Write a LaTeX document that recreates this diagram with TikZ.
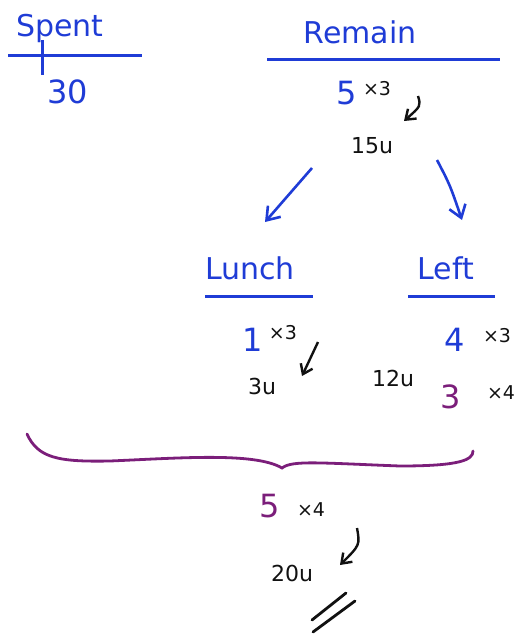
\documentclass[tikz,border=0pt]{standalone}
\usepackage{fontspec}
\setmainfont{DejaVu Sans}
\usetikzlibrary{arrows.meta,positioning}
\definecolor{Pen}{HTML}{1F3CD6}
\definecolor{Plum}{HTML}{7B1E7A}
\definecolor{Ink}{HTML}{111111}
\tikzset{
  heading/.style={text=Pen, font=\fontsize{30}{30}\selectfont, inner sep=1pt},
  bluenum/.style={text=Pen, font=\fontsize{32}{32}\selectfont, inner sep=1pt},
  plumnum/.style={text=Plum, font=\fontsize{32}{32}\selectfont, inner sep=1pt},
  units/.style={text=Ink, font=\fontsize{22}{22}\selectfont, inner sep=1pt},
  times/.style={text=Ink, font=\fontsize{19}{19}\selectfont, inner sep=1pt},
  rule/.style={draw=Pen, line width=3pt},
  inkflow/.style={-{Straight Barb[length=9pt,width=13pt,line width=2.4pt]}, line width=2.4pt, draw=Ink},
  penflow/.style={-{Straight Barb[length=12pt,width=17pt,line width=2.6pt]}, line width=2.6pt, draw=Pen},
  brace/.style={draw=Plum, line width=2.8pt, line cap=round},
  equals/.style={draw=Ink, line width=2.8pt, line cap=round}
}
\begin{document}
\begin{tikzpicture}[x=1pt,y=-1pt]
    \useasboundingbox (0,0) rectangle (519,634);
    % top: spent / remain
    \node[heading] (spent) at (60,28) {Spent};
    \node[bluenum] (thirty) at (68,92) {30};
    \draw[rule] (8,56) -- (142,56);
    \draw[rule] (42,40) -- (42,75);
    \node[heading] (remain) at (360,32) {Remain};
    \draw[rule] (267,60) -- (500,60);
    \node[bluenum] (five) at (347,93) {5};
    \node[times] (rtimes) at (377,89) {×3};
    \node[units] (u15) at (372,146) {15u};
    \coordinate (rarrS) at (418,96);
    \coordinate (rarrE) at (404,121);
    \draw[inkflow] (rarrS) .. controls (421,106) .. (rarrE);
    % split
    \coordinate (lsplitS) at (312,168);
    \coordinate (lsplitE) at (265,222);
    \coordinate (rsplitS) at (437,160);
    \coordinate (rsplitE) at (462,220);
    \draw[penflow] (lsplitS) -- (lsplitE);
    \draw[penflow] (rsplitS) .. controls (450,185) .. (rsplitE);
    % lunch / left
    \node[heading] (lunch) at (250,268) {Lunch};
    \draw[rule] (205,296) -- (313,296);
    \node[heading] (left) at (446,268) {Left};
    \draw[rule] (408,296) -- (495,296);
    \node[bluenum] (one) at (253,340) {1};
    \node[times] (ltimes) at (283,333) {×3};
    \node[units] (u3) at (262,386) {3u};
    \coordinate (larrS) at (318,342);
    \coordinate (larrE) at (302,376);
    \draw[inkflow] (larrS) -- (larrE);
    \node[units] (u12) at (393,378) {12u};
    \node[bluenum] (four) at (455,340) {4};
    \node[times] (ftimes) at (497,336) {×3};
    \node[plumnum] (three) at (451,397) {3};
    \node[times] (ttimes) at (501,393) {×4};
    % brace
    \draw[brace] (27,434) .. controls (38,458) and (58,462) .. (110,461)
      .. controls (180,458) and (255,452) .. (282,468)
      .. controls (292,460) and (320,463) .. (400,466)
      .. controls (460,466) and (473,460) .. (473,451);
    % total
    \node[plumnum] (fivep) at (270,506) {5};
    \node[times] (btimes) at (311,510) {×4};
    \node[units] (u20) at (292,573) {20u};
    \coordinate (barrS) at (357,528);
    \coordinate (barrE) at (340,565);
    \draw[inkflow] (barrS) .. controls (360,545) .. (barrE);
    \draw[equals] (312,620) -- (346,593);
    \draw[equals] (313,632) -- (355,601);
\end{tikzpicture}
\end{document}
